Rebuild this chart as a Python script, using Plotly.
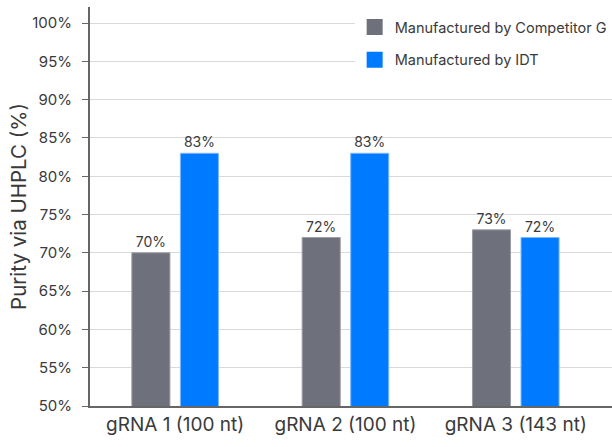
import plotly.graph_objects as go

categories = ["gRNA 1 (100 nt)", "gRNA 2 (100 nt)", "gRNA 3 (143 nt)"]
competitor = [70, 72, 73]
idt = [83, 83, 72]
series_names = ["Manufactured by Competitor G", "Manufactured by IDT"]
y_ticks = [50, 55, 60, 65, 70, 75, 80, 85, 90, 95, 100]
y_tick_labels = [f"{v}%" for v in y_ticks]

FONT = "Inter, Roboto, sans-serif"
TEXT = "#3A3A3A"
GRAY = "#6E717C"
BLUE = "#007BFF"

fig = go.Figure()
for name, vals, color, edge in [
    (series_names[0], competitor, GRAY, "#9A9CA6"),
    (series_names[1], idt, BLUE, "#7DB8FF"),
]:
    fig.add_trace(go.Bar(
        x=categories, y=vals, name=name,
        marker=dict(color=color, line=dict(color=edge, width=1)),
        text=[f"{v}%" for v in vals], textposition="outside",
        textfont=dict(size=14, color=TEXT, family=FONT), cliponaxis=False,
        showlegend=False,
    ))
    # legend entry with a larger square swatch
    fig.add_trace(go.Scatter(
        x=[None], y=[None], mode="markers", name=name,
        marker=dict(symbol="square", size=16, color=color),
        legendgroup=name,
    ))

fig.update_layout(
    width=612, height=447,
    margin=dict(l=90, r=0, t=7, b=41, autoexpand=False),
    paper_bgcolor="white", plot_bgcolor="white",
    font=dict(family=FONT, color=TEXT),
    barmode="group", bargap=0.43, bargroupgap=0.216,
    legend=dict(
        x=0.507, y=0.99, xanchor="left", yanchor="top",
        font=dict(size=14.5, color=TEXT, family=FONT),
        bgcolor="rgba(255,255,255,1)",
        traceorder="grouped", tracegroupgap=11,
        itemsizing="trace",
    ),
    xaxis=dict(
        range=[-0.5, 2.565],
        showline=True, linecolor="#666666", linewidth=2,
        ticks="", tickfont=dict(size=19, color=TEXT, family=FONT),
        showgrid=False,
    ),
    yaxis=dict(
        range=[50, 102.1],
        tickvals=y_ticks, ticktext=y_tick_labels,
        showline=True, linecolor="#666666", linewidth=2,
        ticks="outside", ticklen=6, tickcolor="#666666", tickwidth=1,
        ticklabelstandoff=7,
        tickfont=dict(size=15, color=TEXT, family=FONT),
        showgrid=True, gridcolor="#D9D9D9", gridwidth=1,
        zeroline=False,
        title=dict(text="Purity via UHPLC (%)", font=dict(size=20.5, color=TEXT, family=FONT), standoff=0),
    ),
)

fig.write_html("out.html")
